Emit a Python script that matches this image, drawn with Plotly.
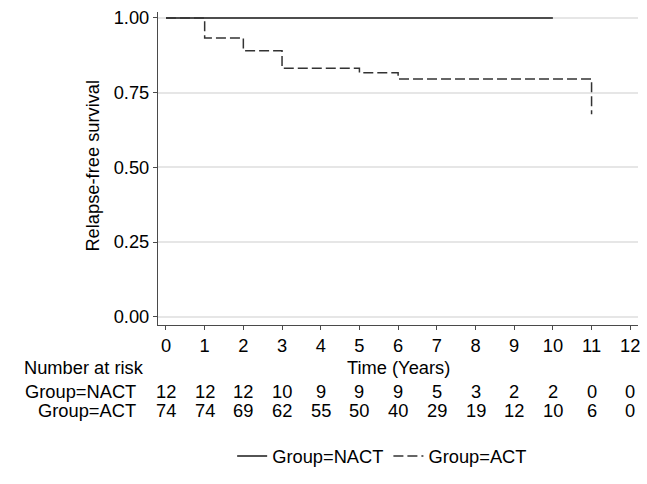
import plotly.graph_objects as go

# Kaplan-Meier step data
nact_time = [0, 10]
nact_surv = [1.0, 1.0]
act_time = [0, 1, 2, 3, 5, 6, 11]
act_surv = [1.0, 0.933, 0.890, 0.832, 0.817, 0.796, 0.678]

# Number-at-risk table
risk_times = [0, 1, 2, 3, 4, 5, 6, 7, 8, 9, 10, 11, 12]
risk_nact = [12, 12, 12, 10, 9, 9, 9, 5, 3, 2, 2, 0, 0]
risk_act = [74, 74, 69, 62, 55, 50, 40, 29, 19, 12, 10, 6, 0]

y_ticks = [0.0, 0.25, 0.5, 0.75, 1.0]
y_ticktext = ["0.00", "0.25", "0.50", "0.75", "1.00"]

FONT = "Liberation Sans, Arial, sans-serif"
FS = 18.3
AXC = "#4a4a4a"

fig = go.Figure()
fig.add_trace(go.Scatter(x=nact_time, y=nact_surv, mode="lines", line_shape="hv",
                         name="Group=NACT", line=dict(color="#1a1a1a", width=1.5)))
fig.add_trace(go.Scatter(x=act_time, y=act_surv, mode="lines", line_shape="hv",
                         name="Group=ACT", line=dict(color="#333333", width=1.5, dash="10px,4px")))

ann = []
row_y = {"hdr": -0.1365, "nact": -0.2127, "act": -0.273}
for t, n1, n2 in zip(risk_times, risk_nact, risk_act):
    ann.append(dict(x=t, xref="x", y=row_y["nact"], yref="paper", text=str(n1), showarrow=False,
                    xanchor="center", yanchor="middle", font=dict(size=FS, color="black", family=FONT)))
    ann.append(dict(x=t, xref="x", y=row_y["act"], yref="paper", text=str(n2), showarrow=False,
                    xanchor="center", yanchor="middle", font=dict(size=FS, color="black", family=FONT)))
ann.append(dict(x=-0.284, xref="paper", y=row_y["hdr"], yref="paper", text="Number at risk", showarrow=False,
                xanchor="left", yanchor="middle", font=dict(size=FS, color="black", family=FONT)))
ann.append(dict(x=-0.0415, xref="paper", y=row_y["nact"], yref="paper", text="Group=NACT", showarrow=False,
                xanchor="right", yanchor="middle", font=dict(size=FS, color="black", family=FONT)))
ann.append(dict(x=-0.0415, xref="paper", y=row_y["act"], yref="paper", text="Group=ACT", showarrow=False,
                xanchor="right", yanchor="middle", font=dict(size=FS, color="black", family=FONT)))
ann.append(dict(x=0.5, xref="paper", y=-0.136, yref="paper", text="Time (Years)", showarrow=False,
                xanchor="center", yanchor="middle", font=dict(size=FS, color="black", family=FONT)))
ann.append(dict(x=-0.137, xref="paper", y=0.51, yref="paper", text="Relapse-free survival", showarrow=False,
                textangle=-90, xanchor="center", yanchor="middle", font=dict(size=FS, color="black", family=FONT)))

fig.update_layout(
    width=647, height=484,
    margin=dict(l=158, r=7, t=10, b=159),
    paper_bgcolor="white", plot_bgcolor="white",
    font=dict(family=FONT, size=FS, color="black"),
    showlegend=True,
    legend=dict(orientation="h", x=0.467, xanchor="center", y=-0.419, yanchor="middle",
                font=dict(size=FS, family=FONT, color="black"), bgcolor="rgba(0,0,0,0)",
                itemwidth=30, tracegroupgap=0),
    annotations=ann,
)
fig.update_xaxes(range=[-0.206, 12.2], tickvals=risk_times, ticks="outside", ticklen=4, tickcolor=AXC,
                 showline=True, linecolor=AXC, linewidth=1.2, showgrid=False, zeroline=False,
                 tickfont=dict(size=FS, color="black"))
fig.update_yaxes(range=[-0.0277, 1.02], tickvals=y_ticks, ticktext=y_ticktext, ticks="outside", ticklen=4,
                 tickcolor=AXC, showline=True, linecolor=AXC, linewidth=1.2, showgrid=True,
                 gridcolor="#e6e6e6", gridwidth=1.5, zeroline=False,
                 tickfont=dict(size=FS, color="black"))

fig.write_html("out.html", config={"displayModeBar": False},
               post_script="document.body.style.margin='0';")
